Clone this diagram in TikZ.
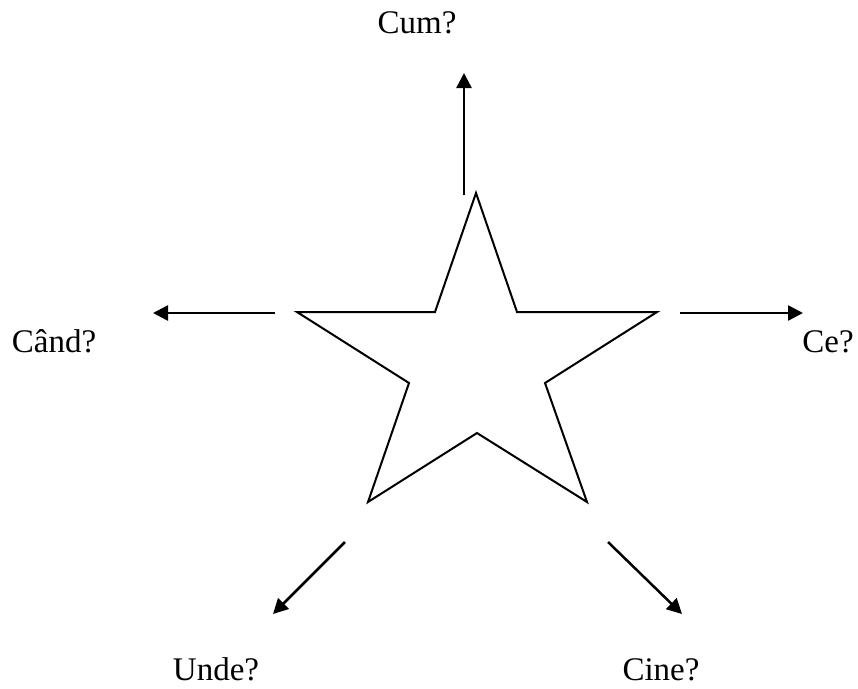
\documentclass[tikz,border=0pt]{standalone}
\usepackage{fontspec}
\setmainfont{Liberation Serif}
\usetikzlibrary{arrows.meta}
\tikzset{
    ray/.style={-{Triangle[length=15pt,width=15pt]}, line width=2.5pt},
    word/.style={font=\fontsize{33}{38}\selectfont, inner sep=0pt, anchor=base}
}
\begin{document}
\begin{tikzpicture}[x=1pt, y=-1pt]
    \useasboundingbox (0,0) rectangle (858,688);

    % star
    \draw[line width=2pt, line join=miter] (476,193) -- (517,312) -- (657,312) -- (545,383) -- (587,502)
        -- (477,433) -- (368,502) -- (409,383) -- (297,312) -- (435,312) -- cycle;

    % labels
    \node[word] (cum) at (417,33) {Cum?};
    \node[word] (cand) at (54,352) {Când?};
    \node[word] (ce) at (828,352) {Ce?};
    \node[word, text depth=0pt] (unde) at (216,680) {Unde?};
    \node[word, text depth=0pt] (cine) at (661,680) {Cine?};

    % arrow ends
    \coordinate (cumA) at (464,195);   \coordinate (cumB) at (464,73);
    \coordinate (candA) at (275,313);  \coordinate (candB) at (153,313);
    \coordinate (ceA) at (680,313);    \coordinate (ceB) at (803,313);
    \coordinate (undeA) at (345,542);  \coordinate (undeB) at (273,614);
    \coordinate (cineA) at (608,542);  \coordinate (cineB) at (682,614);

    \draw[ray] (cumA) -- (cumB);
    \draw[ray] (candA) -- (candB);
    \draw[ray] (ceA) -- (ceB);
    \draw[ray] (undeA) -- (undeB);
    \draw[ray] (cineA) -- (cineB);
\end{tikzpicture}
\end{document}
